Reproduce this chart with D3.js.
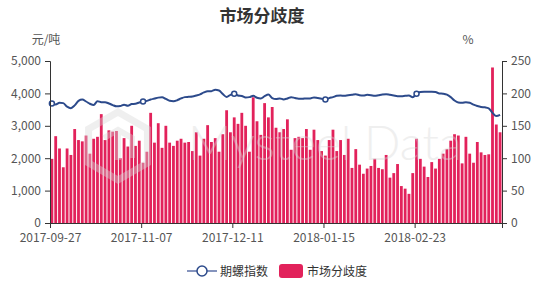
<!DOCTYPE html>
<html>
<head>
<meta charset="utf-8">
<script src="https://cdn.jsdelivr.net/npm/d3@7"></script>
<style>
  body { margin: 0; background: #fff; }
  text { font-family: "Noto Sans CJK SC", "Noto Sans", sans-serif; }
</style>
</head>
<body>
<div id="chart"></div>
<script>
// trading days (categories)
const dates = [
  "2017-09-27","2017-09-28","2017-09-29",
  "2017-10-09","2017-10-10","2017-10-11","2017-10-12","2017-10-13","2017-10-16","2017-10-17","2017-10-18","2017-10-19","2017-10-20",
  "2017-10-23","2017-10-24","2017-10-25","2017-10-26","2017-10-27","2017-10-30","2017-10-31",
  "2017-11-01","2017-11-02","2017-11-03","2017-11-06","2017-11-07","2017-11-08","2017-11-09","2017-11-10","2017-11-13","2017-11-14",
  "2017-11-15","2017-11-16","2017-11-17","2017-11-20","2017-11-21","2017-11-22","2017-11-23","2017-11-24","2017-11-27","2017-11-28",
  "2017-11-29","2017-11-30","2017-12-01","2017-12-04","2017-12-05","2017-12-06","2017-12-07","2017-12-08","2017-12-11","2017-12-12",
  "2017-12-13","2017-12-14","2017-12-15","2017-12-18","2017-12-19","2017-12-20","2017-12-21","2017-12-22","2017-12-25","2017-12-26",
  "2017-12-27","2017-12-28","2017-12-29","2018-01-02","2018-01-03","2018-01-04","2018-01-05","2018-01-08","2018-01-09","2018-01-10",
  "2018-01-11","2018-01-12","2018-01-15","2018-01-16","2018-01-17","2018-01-18","2018-01-19","2018-01-22","2018-01-23","2018-01-24",
  "2018-01-25","2018-01-26","2018-01-29","2018-01-30","2018-01-31","2018-02-01","2018-02-02","2018-02-05","2018-02-06","2018-02-07",
  "2018-02-08","2018-02-09","2018-02-12","2018-02-13","2018-02-14","2018-02-22","2018-02-23","2018-02-26","2018-02-27","2018-02-28",
  "2018-03-01","2018-03-02","2018-03-05","2018-03-06","2018-03-07","2018-03-08","2018-03-09","2018-03-12","2018-03-13","2018-03-14",
  "2018-03-15","2018-03-16","2018-03-19","2018-03-20","2018-03-21","2018-03-22","2018-03-23","2018-03-26","2018-03-27"
];

// 期螺指数 (元/吨, left axis)
const futuresIndex = [
  3690,3660,3710,3700,3590,3545,3630,3770,3810,3750,3680,3640,3760,3730,3730,3690,3640,3600,3610,3650,
  3620,3670,3680,3720,3750,3770,3810,3840,3870,3880,3830,3770,3760,3790,3845,3885,3895,3905,3935,3970,
  4030,4070,4070,4110,4090,3980,3890,3955,3990,3935,3920,3875,3885,3925,3865,3845,3915,3965,3855,3825,
  3845,3815,3845,3885,3855,3835,3835,3845,3845,3875,3855,3835,3810,3855,3885,3925,3935,3925,3945,3955,
  3975,3945,3935,3955,3945,3925,3945,3965,3975,3955,3935,3915,3915,3925,3935,3885,3990,4040,4050,4050,
  4050,4040,4000,3990,3960,3885,3780,3720,3710,3730,3710,3655,3610,3580,3570,3540,3400,3300,3335
];

// 市场分歧度 (%, right axis)
const divergence = [
  99,134,115,86,115,105,145,128,126,135,107,130,133,168,128,143,141,142,100,131,
  118,150,119,127,93,110,170,124,154,116,150,124,119,127,130,124,125,111,140,104,
  130,151,125,131,110,137,174,140,163,153,170,150,110,194,157,136,185,163,179,147,
  140,145,160,113,131,133,131,145,113,144,128,111,104,128,144,111,128,105,130,85,
  114,90,76,84,88,99,85,83,105,70,77,91,57,53,45,77,130,99,87,71,
  94,84,99,107,114,127,137,135,92,133,107,93,125,109,105,106,240,152,140
];

const xTickLabels = ["2017-09-27", "2017-11-07", "2017-12-11", "2018-01-15", "2018-02-23"];
const leftTicks = [0, 1000, 2000, 3000, 4000, 5000];
const rightTicks = [0, 50, 100, 150, 200, 250];

const W = 557, H = 283;
const margin = {top: 61, right: 55, bottom: 60, left: 50};
const width = W - margin.left - margin.right;
const height = H - margin.top - margin.bottom;

const barColor = "#e2225b";
const lineColor = "#2c4a8b";

const root = d3.select("#chart").append("svg")
    .attr("width", W)
    .attr("height", H);

const svg = root.append("g")
    .attr("transform", `translate(${margin.left}, ${margin.top})`);

// scales
const x = d3.scaleBand()
    .domain(dates)
    .range([0, width])
    .paddingInner(0.26)
    .paddingOuter(0.13);

const yLeft = d3.scaleLinear().domain([0, 5000]).range([height, 0]);
const yRight = d3.scaleLinear().domain([0, 250]).range([height, 0]);

// bars
svg.selectAll(".bar")
    .data(divergence)
    .enter()
    .append("rect")
    .attr("class", "bar")
    .attr("x", (d, i) => x(dates[i]))
    .attr("y", d => yRight(d))
    .attr("width", x.bandwidth())
    .attr("height", d => height - yRight(d))
    .attr("fill", barColor);

// line
const cx = i => x(dates[i]) + x.bandwidth() / 2;
const line = d3.line()
    .x((d, i) => cx(i))
    .y(d => yLeft(d))
    .curve(d3.curveMonotoneX);

svg.append("path")
    .datum(futuresIndex)
    .attr("fill", "none")
    .attr("stroke", lineColor)
    .attr("stroke-width", 2)
    .attr("d", line);

// symbols shown at the labelled categories
xTickLabels.forEach(lbl => {
    const i = dates.indexOf(lbl);
    svg.append("circle")
        .attr("cx", cx(i))
        .attr("cy", yLeft(futuresIndex[i]))
        .attr("r", 2.5)
        .attr("fill", "#fff")
        .attr("stroke", lineColor)
        .attr("stroke-width", 1.5);
});

// axes
const styleAxis = g => {
    g.selectAll(".domain").attr("stroke", "#333");
    g.selectAll(".tick line").attr("stroke", "#333");
    g.selectAll(".tick text")
        .attr("fill", "#555")
        .style("font-size", "12px")
        .style("font-family", '"Noto Sans CJK SC", sans-serif');
};

const xPos = d3.scaleLinear().domain([0, dates.length]).range([0, width]);
svg.append("g")
    .attr("transform", `translate(0, ${height})`)
    .call(d3.axisBottom(xPos)
        .tickValues(xTickLabels.map(l => dates.indexOf(l)))
        .tickFormat(i => dates[i])
        .tickSizeOuter(0)
        .tickSize(5)
        .tickPadding(5))
    .call(styleAxis);

svg.append("g")
    .call(d3.axisLeft(yLeft)
        .tickValues(leftTicks)
        .tickFormat(d3.format(","))
        .tickSizeOuter(0)
        .tickSize(5)
        .tickPadding(4))
    .call(styleAxis);

svg.append("g")
    .attr("transform", `translate(${width}, 0)`)
    .call(d3.axisRight(yRight)
        .tickValues(rightTicks)
        .tickSizeOuter(0)
        .tickSize(5)
        .tickPadding(4))
    .call(styleAxis);

// axis units
root.append("text")
    .attr("x", 46).attr("y", 44)
    .attr("text-anchor", "middle")
    .attr("fill", "#555")
    .style("font-size", "12px")
    .text("元/吨");

root.append("text")
    .attr("x", 468).attr("y", 44)
    .attr("text-anchor", "middle")
    .attr("fill", "#555")
    .style("font-size", "12px")
    .text("%");

// title
root.append("text")
    .attr("x", 262).attr("y", 22)
    .attr("text-anchor", "middle")
    .attr("fill", "#333")
    .style("font-size", "17px")
    .style("font-weight", "bold")
    .text("市场分歧度");

// watermark
const wm = root.append("g").attr("opacity", 0.4);
const hex = d3.range(6).map(k => {
    const a = Math.PI / 3 * k - Math.PI / 2;
    return [118 + 34 * Math.cos(a), 146 + 34 * Math.sin(a)];
});
wm.append("path")
    .attr("d", d3.line()(hex) + "Z")
    .attr("fill", "none")
    .attr("stroke", "#d8d8d8")
    .attr("stroke-width", 7);
wm.append("path")
    .attr("d", "M104,138 L118,130 L132,138 L132,158 M118,130 L118,160")
    .attr("fill", "none")
    .attr("stroke", "#d8d8d8")
    .attr("stroke-width", 6);
wm.append("text")
    .attr("x", 188).attr("y", 160)
    .attr("fill", "#d8d8d8")
    .attr("textLength", 274)
    .style("font-family", "Lato, sans-serif")
    .style("font-weight", 300)
    .style("font-size", "48px")
    .text("Mysteel Data");

// legend
const legend = root.append("g").attr("transform", "translate(0, 271)");
legend.append("line")
    .attr("x1", 187).attr("x2", 217)
    .attr("stroke", "#8594bd").attr("stroke-width", 2);
legend.append("circle")
    .attr("cx", 202).attr("r", 5)
    .attr("fill", "#fff").attr("stroke", lineColor).attr("stroke-width", 1.5);
legend.append("text")
    .attr("x", 220).attr("y", 4.5)
    .attr("fill", "#333")
    .style("font-size", "12px")
    .text("期螺指数");
legend.append("rect")
    .attr("x", 279).attr("y", -7)
    .attr("width", 24).attr("height", 14)
    .attr("rx", 3)
    .attr("fill", barColor);
legend.append("text")
    .attr("x", 307).attr("y", 4.5)
    .attr("fill", "#333")
    .style("font-size", "12px")
    .text("市场分歧度");
</script>
</body>
</html>
